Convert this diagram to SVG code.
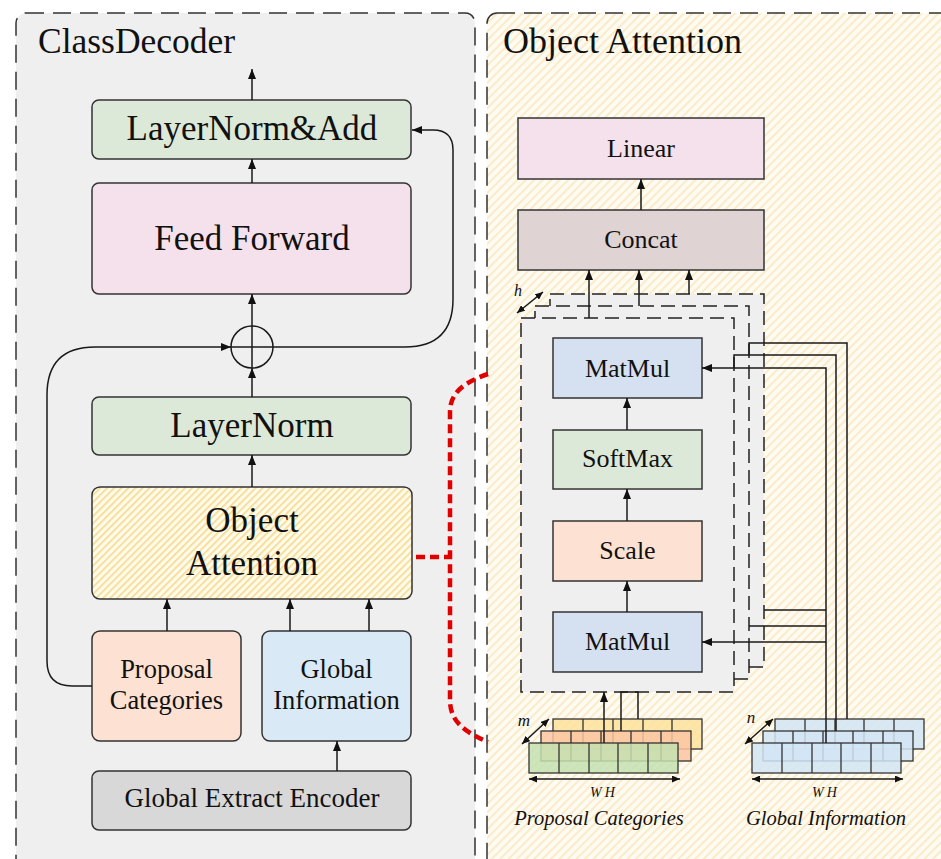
<svg xmlns="http://www.w3.org/2000/svg" width="941" height="859" viewBox="0 0 941 859">
  <defs>
    <style>
      .t { font-family: "Liberation Serif", "Times New Roman", serif; fill: #111; text-anchor: middle; }
      .ti { font-family: "Liberation Serif", "Times New Roman", serif; font-style: italic; fill: #111; text-anchor: middle; }
      .node { stroke: #333; stroke-width: 1.5; }
      .wire { fill: none; stroke: #1a1a1a; stroke-width: 1.5; }
      .panel { stroke: #333; stroke-width: 1.5; stroke-dasharray: 18 9; }
      .stack { fill: #efefef; stroke: #222; stroke-width: 1.5; stroke-dasharray: 14 7; }
      .cell { stroke: #333; stroke-width: 1.3; fill-opacity: 0.85; }
      .div { stroke: #333; stroke-width: 1.3; }
    </style>
    <pattern id="creamHatch" width="6" height="6" patternUnits="userSpaceOnUse" patternTransform="rotate(45)">
      <rect width="6" height="6" fill="#fefbf2"/>
      <rect width="2" height="6" fill="#fbebc8"/>
    </pattern>
    <pattern id="yellowHatch" width="5" height="5" patternUnits="userSpaceOnUse" patternTransform="rotate(45)">
      <rect width="5" height="5" fill="#fffbea"/>
      <rect width="1.6" height="5" fill="#f6d98e"/>
    </pattern>
    <marker id="arr" viewBox="0 0 10 8" refX="10" refY="4" markerWidth="10" markerHeight="8" markerUnits="userSpaceOnUse" orient="auto-start-reverse">
      <path d="M0,0 L10,4 L0,8 z" fill="#111"/>
    </marker>
    <marker id="arrS" viewBox="0 0 8 7" refX="8" refY="3.5" markerWidth="8" markerHeight="7" markerUnits="userSpaceOnUse" orient="auto-start-reverse">
      <path d="M0,0 L8,3.5 L0,7 z" fill="#111"/>
    </marker>
  </defs>

  <rect width="941" height="859" fill="#ffffff"/>

  <!-- Panels -->
  <g id="panel-classdecoder">
    <rect class="panel" x="16" y="13" width="459" height="860" rx="10" fill="#efefef"/>
    <text class="t" x="38" y="53" font-size="35.5" style="text-anchor:start">ClassDecoder</text>
  </g>
  <g id="panel-object-attention">
    <rect class="panel" x="487" y="13" width="480" height="860" rx="10" fill="url(#creamHatch)"/>
    <text class="t" x="503" y="53" font-size="36" style="text-anchor:start">Object Attention</text>
  </g>

  <!-- ClassDecoder nodes -->
  <g id="layernorm-add">
    <rect class="node" x="92" y="100" width="319" height="59" rx="7" fill="#dde9d8"/>
    <text class="t" x="252" y="140" font-size="35">LayerNorm&amp;Add</text>
  </g>
  <g id="feed-forward">
    <rect class="node" x="92" y="183" width="319" height="111" rx="7" fill="#f5e1ec"/>
    <text class="t" x="252" y="250" font-size="35">Feed Forward</text>
  </g>
  <g id="add">
    <circle cx="252" cy="347" r="21" fill="none" stroke="#1a1a1a" stroke-width="1.5"/>
    <path class="wire" d="M231,347 H273 M252,326 V368"/>
  </g>
  <g id="layernorm">
    <rect class="node" x="92" y="397" width="319" height="58" rx="7" fill="#dde9d8"/>
    <text class="t" x="252" y="437" font-size="35">LayerNorm</text>
  </g>
  <g id="object-attention-block">
    <rect class="node" x="92" y="487" width="320" height="112" rx="8" fill="url(#yellowHatch)"/>
    <text class="t" x="252" y="532" font-size="35">Object</text>
    <text class="t" x="252" y="575" font-size="35">Attention</text>
  </g>
  <g id="proposal-categories">
    <rect class="node" x="92" y="631" width="149" height="110" rx="8" fill="#fde2d4"/>
    <text class="t" x="166.5" y="678" font-size="26.5">Proposal</text>
    <text class="t" x="166.5" y="709" font-size="26.5">Categories</text>
  </g>
  <g id="global-information">
    <rect class="node" x="262" y="631" width="149" height="110" rx="8" fill="#d9eaf6"/>
    <text class="t" x="336.5" y="678" font-size="26.5">Global</text>
    <text class="t" x="336.5" y="709" font-size="26.5">Information</text>
  </g>
  <g id="global-extract-encoder">
    <rect class="node" x="92" y="771" width="319" height="59" rx="7" fill="#d8d8d8"/>
    <text class="t" x="252" y="807" font-size="27">Global Extract Encoder</text>
  </g>

  <!-- Object Attention detail nodes -->
  <g id="linear">
    <rect class="node" x="518" y="118" width="246" height="61" fill="#f5e1ec"/>
    <text class="t" x="641" y="157" font-size="26">Linear</text>
  </g>
  <g id="concat">
    <rect class="node" x="518" y="210" width="246" height="60" fill="#e0d3d3"/>
    <text class="t" x="641" y="248" font-size="26">Concat</text>
  </g>
  <g id="heads">
    <rect class="stack" x="550" y="294" width="214" height="373"/>
    <rect class="stack" x="535" y="306" width="214" height="373"/>
    <rect class="stack" x="521" y="318" width="213" height="374"/>
    <text class="ti" x="518" y="296" font-size="16">h</text>
  </g>
  <g id="matmul-top">
    <rect class="node" x="553" y="338" width="149" height="60" fill="#d5e1f0"/>
    <text class="t" x="627.5" y="377" font-size="26">MatMul</text>
  </g>
  <g id="softmax">
    <rect class="node" x="553" y="430" width="149" height="59" fill="#dde9d8"/>
    <text class="t" x="627.5" y="467" font-size="26">SoftMax</text>
  </g>
  <g id="scale">
    <rect class="node" x="553" y="521" width="149" height="60" fill="#fde2d4"/>
    <text class="t" x="627.5" y="559" font-size="26">Scale</text>
  </g>
  <g id="matmul-bottom">
    <rect class="node" x="553" y="612" width="149" height="60" fill="#d5e1f0"/>
    <text class="t" x="627.5" y="650" font-size="26">MatMul</text>
  </g>

  <!-- Tensor grids -->
  <g id="proposal-grid">
    <rect class="cell" x="553" y="719" width="149" height="30" fill="#fde29c"/>
    <path class="div" d="M583,719 V749 M613,719 V749 M643,719 V749 M672,719 V749"/>
    <rect class="cell" x="541" y="731" width="150" height="30" fill="#fcc6a2"/>
    <path class="div" d="M571,731 V761 M601,731 V761 M631,731 V761 M661,731 V761"/>
    <rect class="cell" x="529" y="743" width="149" height="30" fill="#c4e0b0"/>
    <path class="div" d="M559,743 V773 M589,743 V773 M618,743 V773 M648,743 V773"/>
    <text class="ti" x="524" y="726" font-size="17">m</text>
    <text class="ti" x="604" y="797" font-size="14" letter-spacing="3">WH</text>
    <text class="ti" x="599" y="825" font-size="20.5">Proposal Categories</text>
  </g>
  <g id="global-grid">
    <rect class="cell" x="775" y="719" width="149" height="30" fill="#d2e5f4"/>
    <path class="div" d="M805,719 V749 M835,719 V749 M864,719 V749 M894,719 V749"/>
    <rect class="cell" x="763" y="731" width="150" height="30" fill="#d2e5f4"/>
    <path class="div" d="M793,731 V761 M823,731 V761 M853,731 V761 M883,731 V761"/>
    <rect class="cell" x="752" y="743" width="149" height="30" fill="#d2e5f4"/>
    <path class="div" d="M782,743 V773 M812,743 V773 M841,743 V773 M871,743 V773"/>
    <text class="ti" x="751" y="723" font-size="17">n</text>
    <text class="ti" x="826" y="797" font-size="14" letter-spacing="3">WH</text>
    <text class="ti" x="826" y="825" font-size="20.5">Global Information</text>
  </g>

  <!-- Connectors -->
  <g id="connectors">
    <!-- ClassDecoder flow -->
    <path class="wire" d="M252,100 V69" marker-end="url(#arr)"/>
    <path class="wire" d="M252,183 V159" marker-end="url(#arr)"/>
    <path class="wire" d="M252,326 V294" marker-end="url(#arr)"/>
    <path class="wire" d="M252,397 V368" marker-end="url(#arr)"/>
    <path class="wire" d="M252,487 V455" marker-end="url(#arr)"/>
    <path class="wire" d="M167,631 V599" marker-end="url(#arr)"/>
    <path class="wire" d="M290,631 V599" marker-end="url(#arr)"/>
    <path class="wire" d="M369,631 V599" marker-end="url(#arr)"/>
    <path class="wire" d="M337,771 V741" marker-end="url(#arr)"/>
    <!-- residual paths -->
    <path class="wire" d="M92,686 H72 Q47,686 47,661 V395 Q47,347 95,347 H231" marker-end="url(#arr)"/>
    <path class="wire" d="M273,347 H405 Q453,347 453,299 V150 Q453,130 433,130 H412" marker-end="url(#arr)"/>

    <!-- Object Attention flow -->
    <path class="wire" d="M641,210 V179" marker-end="url(#arr)"/>
    <path class="wire" d="M589,318 V270" marker-end="url(#arr)"/>
    <path class="wire" d="M639,306 V270" marker-end="url(#arr)"/>
    <path class="wire" d="M689,294 V270" marker-end="url(#arr)"/>
    <path class="wire" d="M627,430 V398" marker-end="url(#arr)"/>
    <path class="wire" d="M627,521 V489" marker-end="url(#arr)"/>
    <path class="wire" d="M627,612 V581" marker-end="url(#arr)"/>

    <!-- global information into the heads -->
    <path class="wire" d="M826,743 V368 H702" marker-end="url(#arr)"/>
    <path class="wire" d="M826,642 H702" marker-end="url(#arr)"/>
    <path class="wire" d="M764,610 H826 M749,626 H826"/>
    <path class="wire" d="M836,731 V355 H734 V368"/>
    <path class="wire" d="M847,719 V343 H749 V355"/>

    <!-- proposal categories into the heads -->
    <path class="wire" d="M604,743 V692" marker-end="url(#arr)"/>
    <path class="wire" d="M621,731 V692 H638 V719"/>

    <!-- dimension arrows -->
    <path class="wire" d="M517,313 L543,292" marker-start="url(#arrS)" marker-end="url(#arrS)"/>
    <path class="wire" d="M522,744 L549,719" marker-start="url(#arrS)" marker-end="url(#arrS)"/>
    <path class="wire" d="M745,744 L773,719" marker-start="url(#arrS)" marker-end="url(#arrS)"/>
    <path class="wire" d="M529,779 H680" marker-start="url(#arrS)" marker-end="url(#arrS)"/>
    <path class="wire" d="M752,779 H903" marker-start="url(#arrS)" marker-end="url(#arrS)"/>

    <!-- zoom-in bracket -->
    <path d="M416,557 H450 M488,374 C465,382 450,392 450,412 V700 C450,722 465,732 488,742" fill="none" stroke="#e00000" stroke-width="4.5" stroke-dasharray="9 5"/>
  </g>
</svg>
